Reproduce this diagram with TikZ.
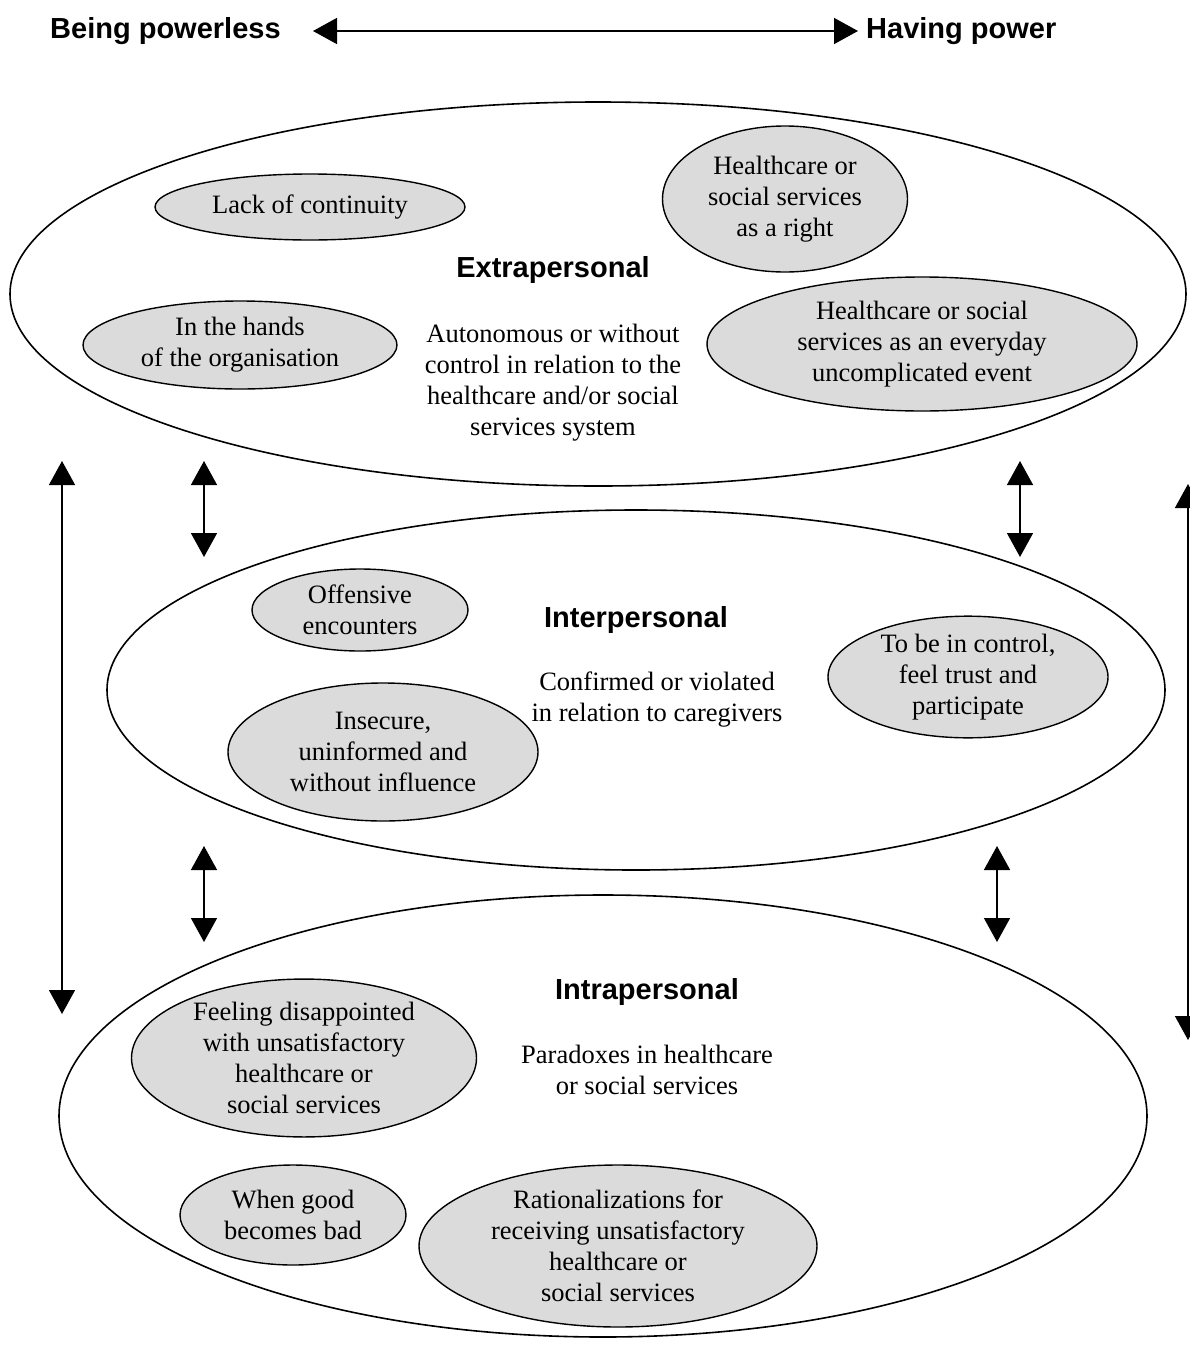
\documentclass[tikz,border=0pt]{standalone}
\usepackage{fontspec}
\setmainfont{Liberation Serif}
\setsansfont{Liberation Sans}
\usetikzlibrary{shapes.geometric,arrows.meta}
\begin{document}
\begin{tikzpicture}[x=1pt,y=-1pt,
  outer/.style={ellipse,draw,line width=1.6pt,inner sep=0pt},
  inner/.style={ellipse,draw,line width=1.4pt,fill=gray!28,inner sep=0pt,align=center,font=\fontsize{26.5}{31}\selectfont},
  plain/.style={align=center,font=\fontsize{26.5}{31}\selectfont,inner sep=0pt},
  title/.style={font=\sffamily\bfseries\fontsize{29}{33}\selectfont,inner sep=0pt},
  dbl/.style={line width=1.5pt,{Triangle[length=24pt,width=26pt]}-{Triangle[length=24pt,width=26pt]}},
  every node/.style={text=black}]
\useasboundingbox (0,0) rectangle (1190,1347);
% top scale
\node[title,anchor=west] (pl) at (50,31) {Being powerless};
\node[title,anchor=west] (hp) at (866,31) {Having power};
\coordinate (tl) at (313,31);
\coordinate (tr) at (858,31);
\draw[dbl] (tl) -- (tr);
% outer ellipses
\node[outer,minimum width=1176pt,minimum height=384pt] (extra) at (598,294) {};
\node[outer,minimum width=1058pt,minimum height=360pt] (inter) at (636,690) {};
\node[outer,minimum width=1088pt,minimum height=442pt] (intra) at (603,1116) {};
% extrapersonal
\node[title] (extraT) at (553,270) {Extrapersonal};
\node[plain] (extraD) at (553,383) {Autonomous or without\\control in relation to the\\healthcare and/or social\\services system};
\node[inner,minimum width=310pt,minimum height=66pt] (lack) at (310,207) {Lack of continuity};
\node[inner,minimum width=245pt,minimum height=146pt] (right) at (785,199) {Healthcare or\\social services\\as a right};
\node[inner,minimum width=314pt,minimum height=88pt] (hands) at (240,345) {In the hands\\of the organisation};
\node[inner,minimum width=430pt,minimum height=134pt] (every) at (922,344) {Healthcare or social\\services as an everyday\\uncomplicated event};
% interpersonal
\node[title] (interT) at (636,620) {Interpersonal};
\node[plain] (interD) at (657,700) {Confirmed or violated\\in relation to caregivers};
\node[inner,minimum width=216pt,minimum height=82pt] (off) at (360,610) {Offensive\\encounters};
\node[inner,minimum width=310pt,minimum height=138pt] (insec) at (383,752) {Insecure,\\uninformed and\\without influence};
\node[inner,minimum width=280pt,minimum height=106pt] (ctrl) at (968,677) {To be in control,\\feel trust and\\participate};
% intrapersonal
\node[title] (intraT) at (647,992) {Intrapersonal};
\node[plain] (intraD) at (647,1070) {Paradoxes in healthcare\\or social services};
\node[inner,minimum width=345pt,minimum height=150pt] (disap) at (304,1058) {Feeling disappointed\\with unsatisfactory\\healthcare or\\social services};
\node[inner,minimum width=226pt,minimum height=100pt] (good) at (293,1215) {When good\\becomes bad};
\node[inner,minimum width=398pt,minimum height=162pt] (ration) at (618,1246) {Rationalizations for\\receiving unsatisfactory\\healthcare or\\social services};
% vertical arrows
\coordinate (a1) at (62,461); \coordinate (a2) at (62,1014);
\draw[dbl] (a1) -- (a2);
\coordinate (b1) at (204,461); \coordinate (b2) at (204,557);
\draw[dbl] (b1) -- (b2);
\coordinate (c1) at (204,846); \coordinate (c2) at (204,942);
\draw[dbl] (c1) -- (c2);
\coordinate (d1) at (1020,461); \coordinate (d2) at (1020,557);
\draw[dbl] (d1) -- (d2);
\coordinate (e1) at (997,846); \coordinate (e2) at (997,942);
\draw[dbl] (e1) -- (e2);
\coordinate (f1) at (1188,484); \coordinate (f2) at (1188,1040);
\draw[dbl] (f1) -- (f2);
\end{tikzpicture}
\end{document}
